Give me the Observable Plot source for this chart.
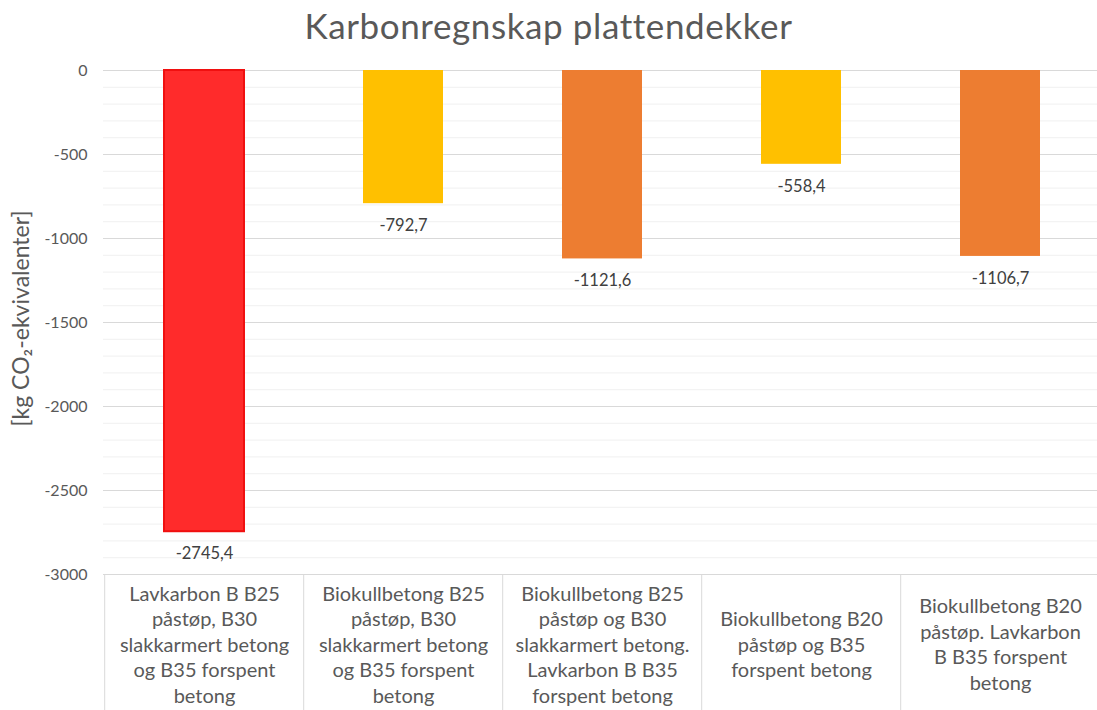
<!DOCTYPE html>
<html>
<head>
<meta charset="utf-8">
<script src="https://cdn.jsdelivr.net/npm/d3@7"></script>
<script src="https://cdn.jsdelivr.net/npm/@observablehq/plot@0.6"></script>
<style>
  html, body { margin: 0; padding: 0; background: #fff; overflow: hidden; }
  #title { height: 50px; line-height: 50px; text-align: center; font-family: Lato, "Open Sans", sans-serif; font-size: 35px; color: #595959; letter-spacing: 0.6px; }
  #chart svg { display: block; }
</style>
</head>
<body>
<div id="title">Karbonregnskap plattendekker</div>
<div id="chart"></div>
<script>
const categories = [
  "Lavkarbon B B25\npåstøp, B30\nslakkarmert betong\nog B35 forspent\nbetong",
  "Biokullbetong B25\npåstøp, B30\nslakkarmert betong\nog B35 forspent\nbetong",
  "Biokullbetong B25\npåstøp og B30\nslakkarmert betong.\nLavkarbon B B35\nforspent betong",
  "Biokullbetong B20\npåstøp og B35\nforspent betong",
  "Biokullbetong B20\npåstøp. Lavkarbon\nB B35 forspent\nbetong"
];
const values = [-2745.4, -792.7, -1121.6, -558.4, -1106.7];
const barColors = ["#FF2B2B", "#FFC000", "#ED7D31", "#FFC000", "#ED7D31"];
const barStrokes = ["#F01010", "none", "none", "none", "none"];
const yTicks = [0, -500, -1000, -1500, -2000, -2500, -3000];
const yMinorTicks = d3.range(-100, -3000, -100).filter(v => v % 500 !== 0);
const yLabel = "[kg CO₂-ekvivalenter]";

const data = categories.map((c, i) => ({cat: c, value: values[i], fill: barColors[i], stroke: barStrokes[i]}));
const fmt = v => String(v.toFixed(1)).replace(".", ",");

const xRange = [103, 1101];
const step = (xRange[1] - xRange[0]) / categories.length;
const font = "Lato, 'Open Sans', sans-serif";

const chart = Plot.plot({
  width: 1097,
  height: 660,
  marginTop: 20,
  marginBottom: 136,
  marginLeft: 103,
  marginRight: 0,
  style: {fontFamily: font, background: "white"},
  x: {domain: categories, range: xRange, paddingInner: 0.6, paddingOuter: 0.3, axis: null},
  y: {domain: [-3000, 0], axis: null},
  marks: [
    Plot.ruleY(yMinorTicks, {stroke: "#f0f0f0", strokeWidth: 1}),
    Plot.ruleY(yTicks, {stroke: "#d9d9d9", strokeWidth: 1}),
    Plot.barY(data, {x: "cat", y: "value", fill: "fill", stroke: "stroke", strokeWidth: 2}),
    Plot.text(data, {x: "cat", y: "value", text: d => fmt(d.value), dy: 22, fontSize: 16.5, fill: "#404040"}),
    Plot.text(yTicks, {y: d => d, text: d => String(d), frameAnchor: "left", textAnchor: "end", dx: -16, fontSize: 16, fill: "#595959"}),
    Plot.text([yLabel], {frameAnchor: "left", text: d => d, textAnchor: "middle", rotate: -90, dx: -82, dy: -4, fontSize: 23, fill: "#595959"}),
    Plot.ruleX(categories, {x: d => d, dx: -step / 2, y1: -3000, y2: -3850, stroke: "#d9d9d9"}),
    Plot.ruleX([categories[categories.length - 1]], {x: d => d, dx: step / 2 - 1, y1: -3000, y2: -3850, stroke: "#d9d9d9"}),
    Plot.text(categories, {x: d => d, y: -3000, text: d => d, dy: 69, lineAnchor: "middle", lineHeight: 1.28, fontSize: 20, fill: "#595959"})
  ]
});
document.getElementById("chart").appendChild(chart);
</script>
</body>
</html>
